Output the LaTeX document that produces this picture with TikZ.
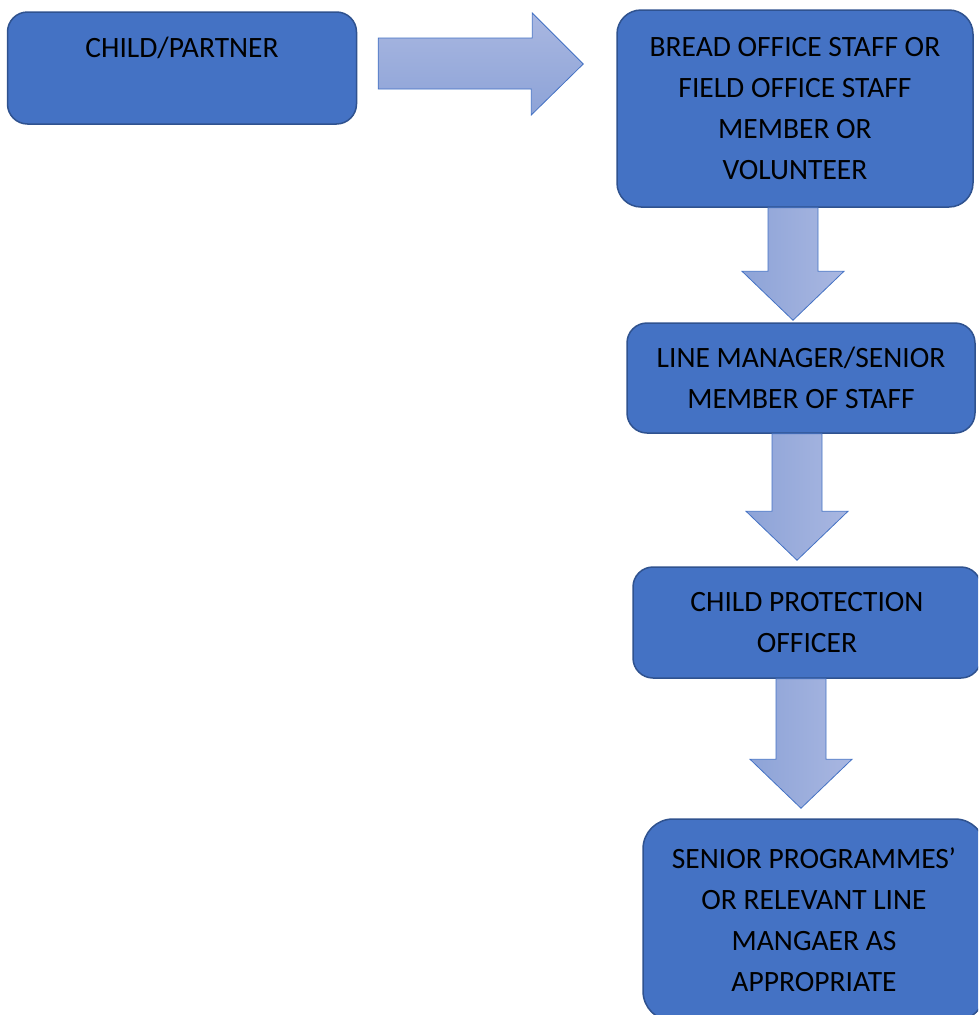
\documentclass[tikz,border=0pt]{standalone}
\usepackage{fontspec}
\setmainfont{Carlito}
\definecolor{boxblue}{HTML}{4472C4}
\definecolor{boxedge}{HTML}{2F528F}
\definecolor{arrowdark}{HTML}{8DA3D7}
\definecolor{arrowlight}{HTML}{A9B7E1}
\newcommand{\flowdown}[4]{%
  \coordinate (dtail) at (#1,0 |- #2.south);
  \coordinate (dtip) at ([yshift=#4]#1,0 |- #3.north);
  \draw[flowarrow, left color=arrowdark, right color=arrowlight]
    ([xshift=-25]dtail) -- ([xshift=25]dtail) -- ([xshift=25,yshift=49]dtip)
    -- ([xshift=51,yshift=49]dtip) -- (dtip) -- ([xshift=-51,yshift=49]dtip)
    -- ([xshift=-25,yshift=49]dtip) -- cycle;
}
\begin{document}
\begin{tikzpicture}[x=1pt,y=-1pt,
        flowbox/.style={draw=boxedge,fill=boxblue,line width=1.5pt,rounded corners=20pt,
            align=center,inner sep=0pt,font=\fontsize{29.5}{41}\selectfont},
        flowarrow/.style={draw=boxblue,line width=0.8pt}]
            \clip (0,0) rectangle (978,1015);

            \node[flowbox,minimum width=349,minimum height=112] (box1) at (182,68) {CHILD/PARTNER\\~};
            \node[flowbox,minimum width=356,minimum height=197,rounded corners=24pt] (box2) at (795,108.5)
                {BREAD OFFICE STAFF OR\\FIELD OFFICE STAFF\\MEMBER OR\\VOLUNTEER};
            \node[flowbox,minimum width=348,minimum height=110] (box3) at (801,378)
                {LINE MANAGER/SENIOR\\MEMBER OF STAFF};
            \node[flowbox,minimum width=348,minimum height=111] (box4) at (807,622.5)
                {CHILD PROTECTION\\OFFICER};
            \node[flowbox,minimum width=342,minimum height=202,rounded corners=30pt] (box5) at (814,920)
                {SENIOR PROGRAMMES’\\OR RELEVANT LINE\\MANGAER AS\\APPROPRIATE};

            \coordinate (rtail) at ([xshift=21]box1.east);
            \coordinate (rtip) at ([xshift=-33]box2.west);
            \draw[flowarrow, top color=arrowlight, bottom color=arrowdark]
                (rtail |- 0,38) -- ++(154,0) -- ++(0,-25) -- (rtip |- 0,64) -- ++(-52,51)
                -- ++(0,-26) -- (rtail |- 0,89) -- cycle;

            \flowdown{793}{box2}{box3}{2}
            \flowdown{797}{box3}{box4}{6}
            \flowdown{801}{box4}{box5}{10}
        \end{tikzpicture}
\end{document}
